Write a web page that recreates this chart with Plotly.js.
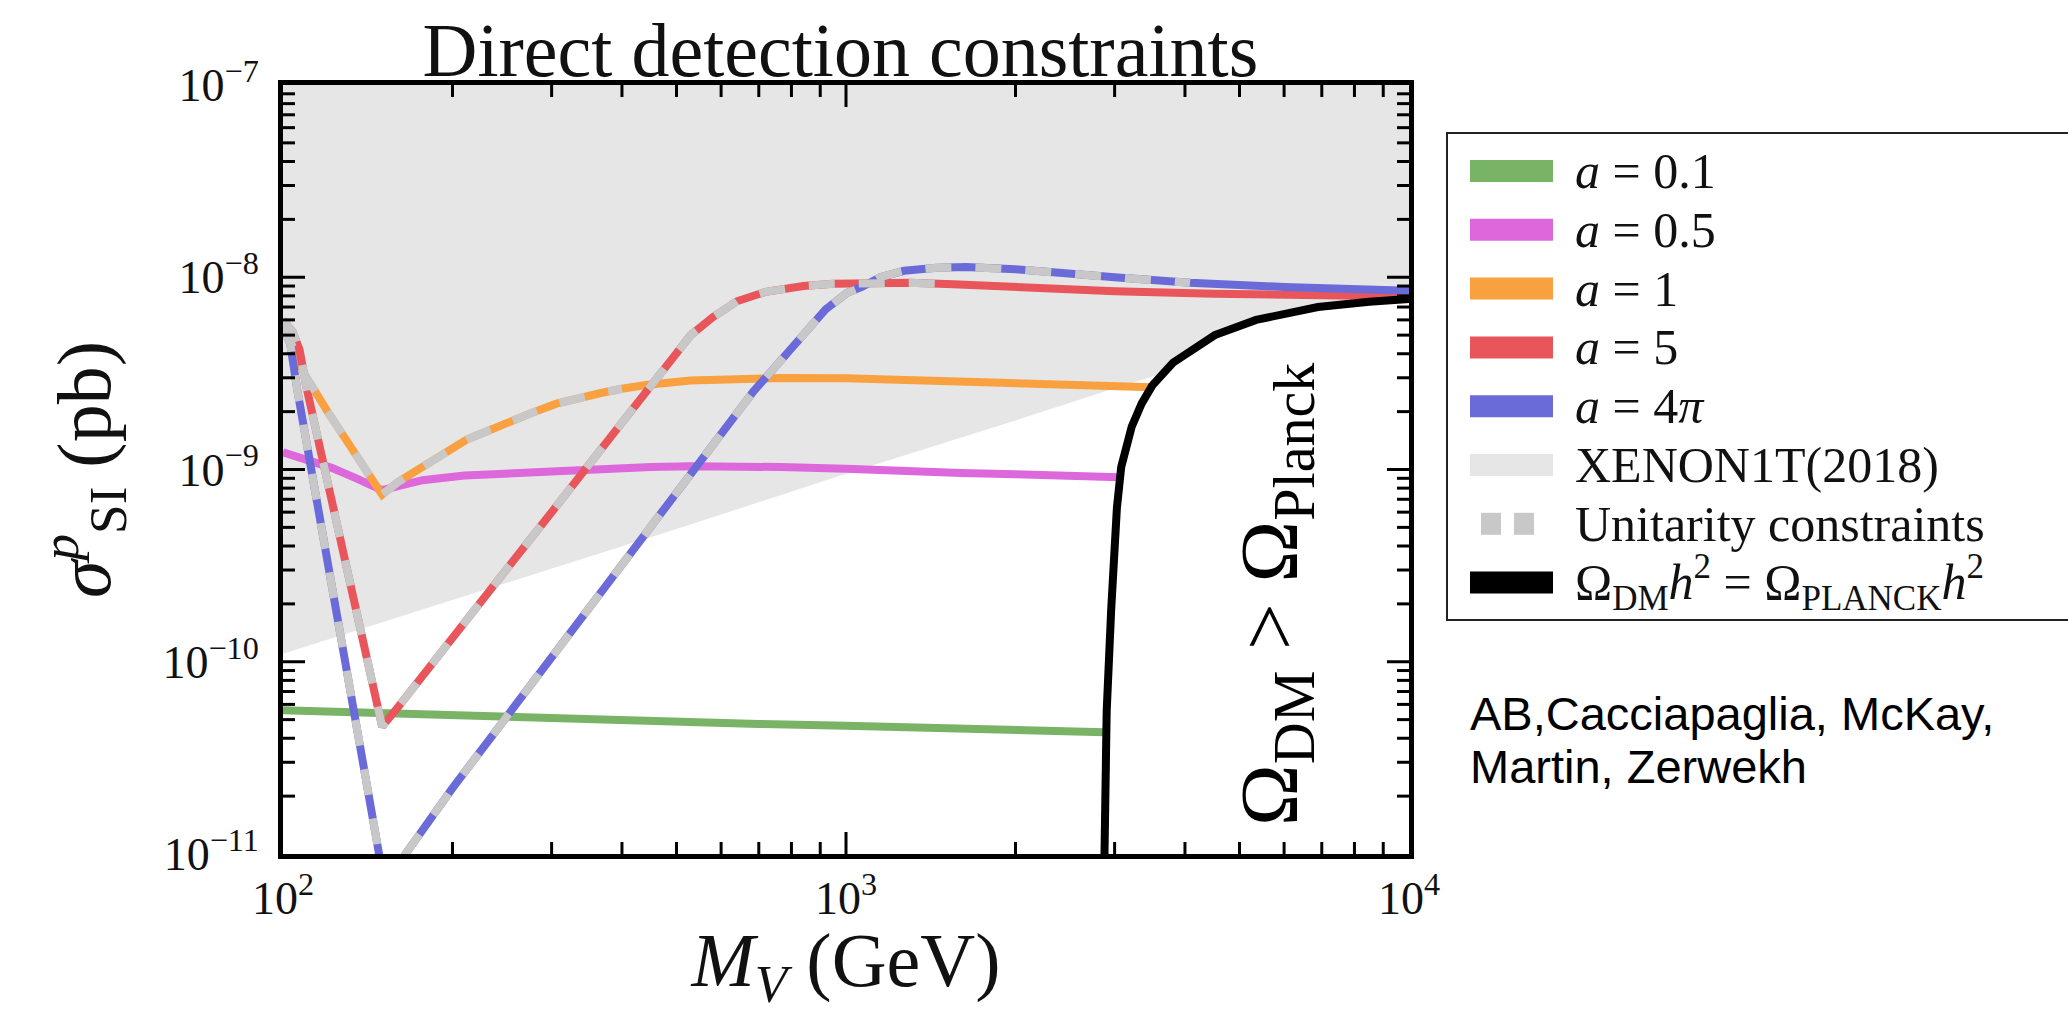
<!DOCTYPE html>
<html>
<head>
<meta charset="utf-8">
<script src="https://cdn.plot.ly/plotly-3.0.1.min.js"></script>
<style>html,body{margin:0;padding:0;background:#fff;overflow:hidden}</style>
</head>
<body>
<div id="chart" style="width:2068px;height:1014px"></div>
<script>
// ---------------- data ----------------
const xRange = [100, 10000];
const yRange = [1e-11, 1e-7];

const xTickVals = [100, 1000, 10000];
const xTickText = ['10<sup>2</sup>', '10<sup>3</sup>', '10<sup>4</sup>'];
const yTickVals = [1e-11, 1e-10, 1e-9, 1e-8, 1e-7];
const yTickText = ['10<sup>\u221211</sup>', '10<sup>\u221210</sup>', '10<sup>\u22129</sup>', '10<sup>\u22128</sup>', '10<sup>\u22127</sup>'];
const xMinorTicks = [200,300,400,500,600,700,800,900,2000,3000,4000,5000,6000,7000,8000,9000];
const yMinorTicks = [2e-11,3e-11,4e-11,5e-11,6e-11,7e-11,8e-11,9e-11,
                     2e-10,3e-10,4e-10,5e-10,6e-10,7e-10,8e-10,9e-10,
                     2e-9,3e-9,4e-9,5e-9,6e-9,7e-9,8e-9,9e-9,
                     2e-8,3e-8,4e-8,5e-8,6e-8,7e-8,8e-8,9e-8];

// XENON1T(2018) exclusion: lower boundary of the shaded band
const xenonX = [100, 200, 300, 500, 1000, 2000, 3000, 5000, 10000];
const xenonY = [1.1e-10, 2.1e-10, 3.05e-10, 4.9e-10, 9.5e-10, 1.8e-9, 2.65e-9, 4.2e-9, 7.0e-9];

// a = 0.1
const greenX = [100, 200, 400, 700, 1000, 1500, 2000, 2880];
const greenY = [5.6e-11, 5.25e-11, 4.95e-11, 4.75e-11, 4.65e-11, 4.5e-11, 4.42e-11, 4.3e-11];

// a = 0.5
const magentaX = [100, 110, 122, 135, 150, 160, 177, 210, 255, 310, 367, 450, 530, 650, 764, 1000, 1250, 1600, 2000, 2500, 3060];
const magentaY = [1.23e-9, 1.12e-9, 1.02e-9, 9.0e-10, 7.8e-10, 8.2e-10, 8.8e-10, 9.3e-10, 9.6e-10, 9.9e-10, 1.01e-9, 1.03e-9, 1.04e-9, 1.04e-9, 1.03e-9, 1.01e-9, 9.8e-10, 9.6e-10, 9.45e-10, 9.3e-10, 9.1e-10];

// a = 1
const orangeX = [100, 104, 108, 120, 135, 150, 160, 177, 195, 212, 235, 255, 280, 306, 335, 367, 400, 441, 529, 650, 764, 1000, 1248, 1600, 2000, 2600, 3000, 3500];
const orangeY = [5.8e-9, 4.4e-9, 3.3e-9, 2.0e-9, 1.2e-9, 7.4e-10, 8.6e-10, 1.04e-9, 1.24e-9, 1.43e-9, 1.62e-9, 1.8e-9, 2.0e-9, 2.2e-9, 2.37e-9, 2.5e-9, 2.63e-9, 2.75e-9, 2.9e-9, 2.97e-9, 2.99e-9, 2.98e-9, 2.92e-9, 2.87e-9, 2.82e-9, 2.76e-9, 2.72e-9, 2.68e-9];

// a = 5
const redX = [100, 104, 107, 110, 117, 125, 135, 145, 150, 160, 177, 200, 250, 300, 350, 400, 449, 490, 530, 580, 640, 720, 840, 950, 1060, 1165, 1300, 1550, 2000, 2300, 3000, 4500, 7000, 10000];
const redY = [6.0e-9, 5.2e-9, 4.2e-9, 2.7e-9, 1.2e-9, 5.0e-10, 1.9e-10, 7.2e-11, 4.6e-11, 5.8e-11, 8.5e-11, 1.33e-10, 3.05e-10, 6.0e-10, 1.06e-9, 1.74e-9, 2.75e-9, 3.8e-9, 5.0e-9, 6.2e-9, 7.5e-9, 8.4e-9, 9.0e-9, 9.25e-9, 9.35e-9, 9.4e-9, 9.35e-9, 9.2e-9, 8.85e-9, 8.65e-9, 8.45e-9, 8.2e-9, 8.05e-9, 7.95e-9];

// a = 4 pi
const blueX = [100, 103, 106, 110, 115, 125, 135, 145, 150, 155, 165, 200, 250, 300, 400, 540, 685, 760, 839, 920, 1005, 1067, 1150, 1268, 1450, 1634, 2000, 2293, 3000, 3808, 4083, 6000, 10000];
const blueY = [5.5e-9, 4.5e-9, 2.6e-9, 1.4e-9, 6.6e-10, 1.66e-10, 4.7e-11, 1.44e-11, 8.1e-12, 7e-12, 1.0e-11, 2.2e-11, 5.2e-11, 1.06e-10, 3.25e-10, 1.04e-9, 2.55e-9, 3.6e-9, 5.1e-9, 6.8e-9, 8.3e-9, 8.9e-9, 1.0e-8, 1.08e-8, 1.12e-8, 1.13e-8, 1.1e-8, 1.06e-8, 1.0e-8, 9.5e-9, 9.35e-9, 8.9e-9, 8.5e-9];

// unitarity is violated below these masses (dashed grey overlay)
const unitarityLimit = {orange: 400, red: 1550, blue: 4083};

// Omega_DM h^2 = Omega_Planck h^2
const relicX = [2875, 2904, 2958, 3028, 3082, 3150, 3217, 3350, 3498, 3808, 4200, 4520, 5350, 6890, 8500, 10000];
const relicY = [8e-12, 5.5e-11, 1.86e-10, 6.3e-10, 1.03e-9, 1.35e-9, 1.67e-9, 2.2e-9, 2.73e-9, 3.59e-9, 4.35e-9, 5.0e-9, 6.0e-9, 7.0e-9, 7.45e-9, 7.7e-9];

const legendLabels = ['<i>a</i> = 0.1', '<i>a</i> = 0.5', '<i>a</i> = 1', '<i>a</i> = 5', '<i>a</i> = 4<i>\u03c0</i>',
                      'XENON1T(2018)', 'Unitarity constraints',
                      '\u03a9<sub>DM</sub><i>h</i><sup>2</sup> = \u03a9<sub>PLANCK</sub><i>h</i><sup>2</sup>'];
const legendColors = ['#79b466', '#dc68dc', '#f9a040', '#e8555b', '#6a6ad8', '#e6e6e6', '#c8c8c8', '#000000'];

const titleText = 'Direct detection constraints';
const xTitle = '<i>M</i><sub><i>V</i></sub> (GeV)';
const yTitle = '<i>\u03c3</i><sup><i>p</i></sup><sub>SI</sub> (pb)';
const regionText = '\u03a9<sub>DM</sub> &gt; \u03a9<sub>Planck</sub>';
const creditLines = ['AB,Cacciapaglia, McKay,', 'Martin, Zerwekh'];

// ---------------- styling / layout ----------------
const SERIF = "'Liberation Serif', 'DejaVu Serif', serif";
const SANS = "'Liberation Sans', Arial, sans-serif";
const W = 2068, H = 1014;
const PL = 283, PR = 1409, PT = 85, PB = 854;
const pX = X => (X - PL) / (PR - PL);
const pY = Y => (PB - Y) / (PB - PT);
const LW = 8;

function line(x, y, color, width, dash) {
  return {x: x, y: y, type: 'scatter', mode: 'lines', hoverinfo: 'skip',
          line: {color: color, width: width, dash: dash || 'solid'}, showlegend: false};
}
function cut(x, y, lim) {
  const xx = [], yy = [];
  for (let i = 0; i < x.length; i++) if (x[i] <= lim) { xx.push(x[i]); yy.push(y[i]); }
  return [xx, yy];
}

const traces = [];
// XENON shaded region (above its boundary)
traces.push({x: xenonX.concat([xRange[1], xRange[0]]), y: xenonY.concat([yRange[1] * 2, yRange[1] * 2]),
  type: 'scatter', mode: 'lines', fill: 'toself', fillcolor: legendColors[5], line: {width: 0, color: legendColors[5]},
  hoverinfo: 'skip', showlegend: false});
// over-abundant region (white)
traces.push({x: relicX.concat([xRange[1] * 1.5, xRange[1] * 1.5, relicX[0]]), y: relicY.concat([relicY[relicY.length - 1], yRange[0] / 2, yRange[0] / 2]),
  type: 'scatter', mode: 'lines', fill: 'toself', fillcolor: '#ffffff', line: {width: 0, color: '#ffffff'},
  hoverinfo: 'skip', showlegend: false});

traces.push(line(greenX, greenY, legendColors[0], LW));
traces.push(line(magentaX, magentaY, legendColors[1], LW));
traces.push(line(orangeX, orangeY, legendColors[2], LW));
traces.push(line(redX, redY, legendColors[3], LW));
traces.push(line(blueX, blueY, legendColors[4], LW));

const dashPat = '26px,24px';
let c;
c = cut(orangeX, orangeY, unitarityLimit.orange); traces.push(line(c[0], c[1], legendColors[6], LW, dashPat));
c = cut(redX, redY, unitarityLimit.red); traces.push(line(c[0], c[1], legendColors[6], LW, dashPat));
c = cut(blueX, blueY, unitarityLimit.blue); traces.push(line(c[0], c[1], legendColors[6], LW, dashPat));

traces.push(line(relicX, relicY, '#000000', LW));

// inside tick marks on all four sides, drawn through the axes' own log scales
const plotW = PR - PL, plotH = PB - PT;
const lx0 = Math.log10(xRange[0]), lx1 = Math.log10(xRange[1]);
const ly0 = Math.log10(yRange[0]), ly1 = Math.log10(yRange[1]);
const xPerPx = (lx1 - lx0) / plotW, yPerPx = (ly1 - ly0) / plotH;
const tickX = [], tickY = [];
function addXTicks(vals, len) {
  const k = Math.pow(10, len * yPerPx);
  vals.forEach(function (v) {
    if (v <= xRange[0] * 1.001 || v >= xRange[1] * 0.999) return;
    tickX.push(v, v, null, v, v, null);
    tickY.push(yRange[0], yRange[0] * k, null, yRange[1], yRange[1] / k, null);
  });
}
function addYTicks(vals, len) {
  const k = Math.pow(10, len * xPerPx);
  vals.forEach(function (v) {
    if (v <= yRange[0] * 1.001 || v >= yRange[1] * 0.999) return;
    tickX.push(xRange[0], xRange[0] * k, null, xRange[1], xRange[1] / k, null);
    tickY.push(v, v, null, v, v, null);
  });
}
addXTicks(xTickVals, 22); addXTicks(xMinorTicks, 12);
addYTicks(yTickVals, 22); addYTicks(yMinorTicks, 12);
traces.push({x: tickX, y: tickY, type: 'scatter', mode: 'lines', connectgaps: false, hoverinfo: 'skip',
             line: {color: '#000000', width: 3}, showlegend: false});

const shapes = [];
const annotations = [];

// manual legend
const legL = 1447, legT = 133, legB = 620, legR = 2080;
shapes.push({type: 'rect', xref: 'paper', yref: 'paper', x0: pX(legL), x1: pX(legR), y0: pY(legB), y1: pY(legT),
             line: {color: '#222', width: 2}, fillcolor: 'rgba(0,0,0,0)', layer: 'above'});
const row0 = 171, rowStep = 58.8, swL = 1470, swR = 1553, swH = 22, textL = 1573;
for (let i = 0; i < legendLabels.length; i++) {
  const cy = row0 + i * rowStep;
  if (i === 6) {
    [[1481, 1501], [1514, 1534]].forEach(function (s) {
      shapes.push({type: 'rect', xref: 'paper', yref: 'paper', x0: pX(s[0]), x1: pX(s[1]), y0: pY(cy + swH / 2), y1: pY(cy - swH / 2),
                   line: {width: 0}, fillcolor: legendColors[i], layer: 'above'});
    });
  } else {
    shapes.push({type: 'rect', xref: 'paper', yref: 'paper', x0: pX(swL), x1: pX(swR), y0: pY(cy + swH / 2), y1: pY(cy - swH / 2),
                 line: {width: 0}, fillcolor: legendColors[i], layer: 'above'});
  }
  annotations.push({xref: 'paper', yref: 'paper', x: pX(textL), y: pY(cy), xanchor: 'left', yanchor: 'middle',
                    text: legendLabels[i], showarrow: false, font: {family: SERIF, size: 50, color: '#111'}});
}

annotations.push({xref: 'paper', yref: 'paper', x: pX(1275), y: pY(594), xanchor: 'center', yanchor: 'middle',
                  text: regionText, textangle: -90, showarrow: false, font: {family: SERIF, size: 83, color: '#000'}});
annotations.push({xref: 'paper', yref: 'paper', x: pX(1468), y: pY(713), xanchor: 'left', yanchor: 'middle',
                  text: creditLines[0], showarrow: false, font: {family: SANS, size: 47, color: '#000'}});
annotations.push({xref: 'paper', yref: 'paper', x: pX(1468), y: pY(766), xanchor: 'left', yanchor: 'middle',
                  text: creditLines[1], showarrow: false, font: {family: SANS, size: 47, color: '#000'}});

const axisCommon = {
  type: 'log', showline: true, linewidth: 5, linecolor: '#000', mirror: true,
  ticks: '', tickmode: 'array',
  showgrid: false, zeroline: false, fixedrange: true, layer: 'above traces',
  tickfont: {family: SERIF, size: 46, color: '#111'}
};

const layout = {
  width: W, height: H,
  margin: {l: PL, r: W - PR, t: PT, b: H - PB, pad: 0},
  paper_bgcolor: '#ffffff', plot_bgcolor: '#ffffff',
  showlegend: false,
  title: {text: titleText, x: 0.495, xref: 'paper', xanchor: 'center', y: 1 - 49 / H, yref: 'container', yanchor: 'middle',
          font: {family: SERIF, size: 76, color: '#111'}},
  xaxis: Object.assign({}, axisCommon, {
    range: [lx0, lx1],
    tickvals: xTickVals, ticktext: xTickText, ticklabelstandoff: 0,
    title: {text: xTitle, standoff: 28, font: {family: SERIF, size: 76, color: '#111'}}
  }),
  yaxis: Object.assign({}, axisCommon, {
    range: [ly0, ly1],
    tickvals: yTickVals, ticktext: yTickText, ticklabelstandoff: 10,
    title: {text: yTitle, standoff: 28, font: {family: SERIF, size: 76, color: '#111'}}
  }),
  shapes: shapes,
  annotations: annotations
};

Plotly.newPlot('chart', traces, layout, {staticPlot: true, displayModeBar: false});
</script>
</body>
</html>
